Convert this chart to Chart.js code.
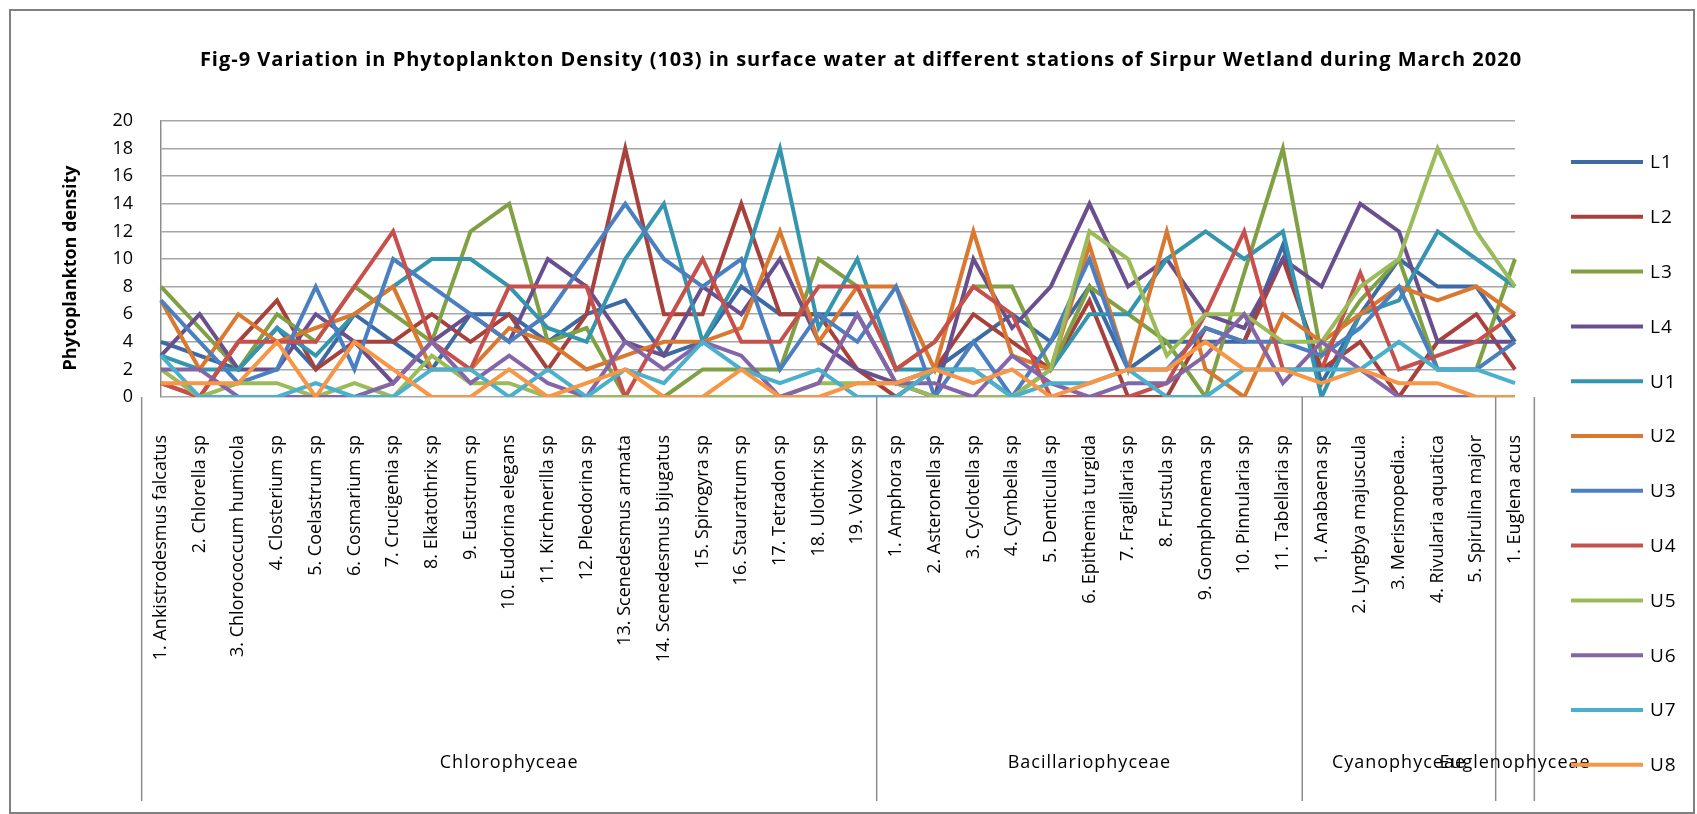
<!DOCTYPE html>
<html>
<head>
<meta charset="utf-8">
<script src="https://cdn.jsdelivr.net/npm/chart.js@4.4.1/dist/chart.umd.min.js"></script>
<style>
  html, body { margin: 0; padding: 0; background: #fff; }
  #wrap { width: 1697px; height: 814px; }
</style>
</head>
<body>
<div id="wrap"><canvas id="chart" width="1697" height="814"></canvas></div>
<script>
const FONT = "'Open Sans', sans-serif";

const titleText = 'Fig-9 Variation in Phytoplankton Density (103) in surface water at different stations of Sirpur Wetland during March 2020';
const yTitle = 'Phytoplankton density';

const categories = [
    '1. Ankistrodesmus falcatus', '2. Chlorella sp', '3. Chlorococcum humicola', '4. Closterium sp',
    '5. Coelastrum sp', '6. Cosmarium sp', '7. Crucigenia sp', '8. Elkatothrix sp', '9. Euastrum sp',
    '10. Eudorina elegans', '11. Kirchnerilla sp', '12. Pleodorina sp', '13. Scenedesmus armata',
    '14. Scenedesmus bijugatus', '15. Spirogyra sp', '16. Stauratrum sp', '17. Tetradon sp',
    '18. Ulothrix sp', '19. Volvox sp',
    '1. Amphora sp', '2. Asteronella sp', '3. Cyclotella sp', '4. Cymbella sp', '5. Denticulla sp',
    '6. Epithemia turgida', '7. Fragillaria sp', '8. Frustula sp', '9. Gomphonema sp',
    '10. Pinnularia sp', '11. Tabellaria sp',
    '1. Anabaena sp', '2. Lyngbya majuscula', '3. Merismopedia...', '4. Rivularia aquatica',
    '5. Spirulina major',
    '1. Euglena acus'
];

const groupNames = ['Chlorophyceae', 'Bacillariophyceae', 'Cyanophyceae', 'Euglenophyceae'];
const groupSizes = [19, 11, 5, 1];

const seriesNames = ['L1', 'L2', 'L3', 'L4', 'U1', 'U2', 'U3', 'U4', 'U5', 'U6', 'U7', 'U8'];
const seriesColors = ['#3c6aa5', '#a8403c', '#7fa043', '#6a4f8e', '#3495ae', '#d9782e',
                      '#4a80c2', '#c8504c', '#9bbb59', '#8466a8', '#4bb0cb', '#f79646'];

const L1 = [4, 3, 2, 5, 2, 6, 4, 2, 6, 6, 4, 6, 7, 3, 4, 8, 6, 6, 6, 1, 2, 4, 6, 4, 8, 2, 4, 4, 4, 11, 1, 6, 10, 8, 8, 4];
const L2 = [1, 0, 4, 7, 2, 4, 4, 6, 4, 6, 2, 6, 18, 6, 6, 14, 6, 6, 2, 0, 2, 6, 4, 2, 7, 0, 0, 5, 4, 10, 2, 4, 0, 4, 6, 2];
const L3 = [8, 5, 2, 6, 4, 8, 6, 4, 12, 14, 4, 5, 0, 0, 2, 2, 2, 10, 8, 2, 4, 8, 8, 2, 8, 6, 4, 0, 9, 18, 3, 7, 10, 2, 2, 10];
const L4 = [3, 6, 2, 2, 6, 4, 1, 4, 6, 4, 10, 8, 4, 3, 8, 6, 10, 4, 2, 1, 0, 10, 5, 8, 14, 8, 10, 6, 5, 10, 8, 14, 12, 4, 4, 4];
const U1 = [3, 2, 2, 5, 3, 6, 8, 10, 10, 8, 5, 4, 10, 14, 4, 9, 18, 5, 10, 2, 2, 2, 0, 2, 6, 6, 10, 12, 10, 12, 0, 6, 7, 12, 10, 8];
const U2 = [7, 2, 6, 4, 5, 6, 8, 2, 2, 5, 4, 2, 3, 4, 4, 5, 12, 4, 8, 8, 2, 12, 3, 2, 11, 2, 12, 2, 0, 6, 4, 6, 8, 7, 8, 6];
const U3 = [7, 4, 1, 2, 8, 2, 10, 8, 6, 4, 6, 10, 14, 10, 8, 10, 2, 6, 4, 8, 0, 4, 0, 4, 10, 2, 2, 5, 4, 4, 3, 5, 8, 2, 2, 4];
const U4 = [1, 0, 4, 4, 4, 8, 12, 4, 2, 8, 8, 8, 0, 5, 10, 4, 4, 8, 8, 2, 4, 8, 6, 0, 0, 0, 1, 6, 12, 2, 2, 9, 2, 3, 4, 6];
const U5 = [2, 0, 1, 1, 0, 1, 0, 3, 1, 1, 0, 0, 0, 0, 0, 0, 0, 1, 1, 1, 0, 0, 0, 2, 12, 10, 3, 6, 6, 4, 4, 8, 10, 18, 12, 8];
const U6 = [2, 2, 0, 0, 0, 0, 1, 4, 1, 3, 1, 0, 4, 2, 4, 3, 0, 1, 6, 1, 1, 0, 3, 1, 0, 1, 1, 3, 6, 1, 4, 2, 0, 0, 0, 0];
const U7 = [3, 0, 0, 0, 1, 0, 0, 2, 2, 0, 2, 0, 2, 1, 4, 2, 1, 2, 0, 0, 2, 2, 0, 1, 1, 2, 0, 0, 2, 2, 2, 2, 4, 2, 2, 1];
const U8 = [1, 1, 1, 4, 0, 4, 2, 0, 0, 2, 0, 1, 2, 0, 0, 2, 0, 0, 1, 1, 2, 1, 2, 0, 1, 2, 2, 4, 2, 2, 1, 2, 1, 1, 0, 0];

const seriesValues = [L1, L2, L3, L4, U1, U2, U3, U4, U5, U6, U7, U8];

function spaced(ctx, px) {
    if ('letterSpacing' in ctx) ctx.letterSpacing = px + 'px';
}

// frame, titles, group row and legend drawn around the chart
const decorPlugin = {
    id: 'decor',
    beforeDraw(chart) {
        const ctx = chart.ctx;
        ctx.save();
        ctx.fillStyle = '#fff';
        ctx.fillRect(0, 0, chart.width, chart.height);
        ctx.strokeStyle = '#808080';
        ctx.lineWidth = 2;
        ctx.strokeRect(10, 10, chart.width - 13, chart.height - 11);
        ctx.restore();
    },
    afterDraw(chart) {
        const ctx = chart.ctx;
        const xs = chart.scales.x;
        const area = chart.chartArea;
        const step = xs.getPixelForValue(1) - xs.getPixelForValue(0);
        ctx.save();

        // title
        ctx.fillStyle = '#000';
        ctx.font = 'bold 20px ' + FONT;
        spaced(ctx, 1);
        ctx.textAlign = 'center';
        ctx.textBaseline = 'middle';
        ctx.fillText(titleText, 861, 60);

        // y axis title
        ctx.save();
        ctx.translate(71, 268);
        ctx.rotate(-Math.PI / 2);
        ctx.font = 'bold 18px ' + FONT;
        spaced(ctx, 0);
        ctx.fillText(yTitle, 0, 0);
        ctx.restore();

        // group separators and names
        ctx.strokeStyle = '#8c8c8c';
        ctx.lineWidth = 1.5;
        ctx.font = '18px ' + FONT;
        spaced(ctx, 1);
        let start = 0;
        const edge = i => xs.getPixelForValue(i) - step / 2;
        ctx.beginPath();
        ctx.moveTo(edge(0), area.bottom);
        ctx.lineTo(edge(0), 801);
        ctx.stroke();
        groupSizes.forEach((n, g) => {
            const a = edge(start);
            const b = edge(start + n);
            ctx.beginPath();
            ctx.moveTo(b, area.bottom);
            ctx.lineTo(b, 801);
            ctx.stroke();
            ctx.fillText(groupNames[g], (a + b) / 2, 763);
            start += n;
        });

        // legend
        ctx.textAlign = 'left';
        ctx.font = '19px ' + FONT;
        spaced(ctx, 1);
        chart.data.datasets.forEach((ds, i) => {
            const y = 162 + i * 54.8;
            ctx.strokeStyle = ds.borderColor;
            ctx.lineWidth = 4;
            ctx.beginPath();
            ctx.moveTo(1571, y);
            ctx.lineTo(1643, y);
            ctx.stroke();
            ctx.fillStyle = '#000';
            ctx.fillText(ds.label, 1650, y + 1);
        });
        ctx.restore();
    }
};

const datasets = seriesNames.map((name, i) => ({
    label: name,
    data: seriesValues[i],
    borderColor: seriesColors[i],
    backgroundColor: seriesColors[i],
    borderWidth: 4,
    pointRadius: 0,
    tension: 0,
    fill: false,
    order: seriesNames.length - i
}));

new Chart(document.getElementById('chart').getContext('2d'), {
    type: 'line',
    data: { labels: categories, datasets: datasets },
    options: {
        responsive: false,
        animation: false,
        layout: { padding: { left: 0, right: 182, top: 121, bottom: 0 } },
        plugins: {
            legend: { display: false },
            title: { display: false },
            tooltip: { enabled: false }
        },
        scales: {
            x: {
                grid: { display: false, drawTicks: false },
                border: { display: false },
                ticks: {
                    autoSkip: false,
                    maxRotation: 90,
                    minRotation: 90,
                    padding: 38,
                    color: '#000',
                    font: { size: 18, family: FONT }
                },
                afterFit: s => { s.height = 417; }
            },
            y: {
                min: 0,
                max: 20,
                ticks: { stepSize: 2, padding: 28, color: '#000', font: { size: 18, family: FONT } },
                grid: { color: '#a6a6a6', lineWidth: 1.5, drawTicks: false },
                border: { display: true, color: '#8c8c8c', width: 1.5 },
                title: { display: false },
                afterFit: s => { s.width = 161; }
            }
        }
    },
    plugins: [decorPlugin]
});
</script>
</body>
</html>
